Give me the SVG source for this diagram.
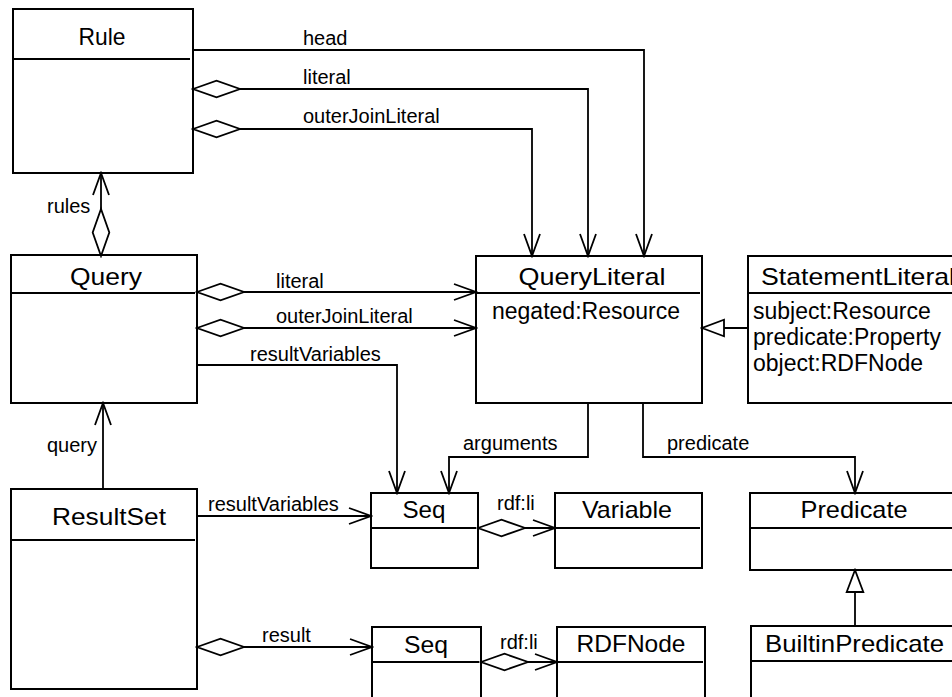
<svg xmlns="http://www.w3.org/2000/svg" width="952" height="697" viewBox="0 0 952 697">
  <style>
    .box { fill: #fff; stroke: #000; stroke-width: 2; }
    .sep { stroke: #000; stroke-width: 2; }
    .conn { fill: none; stroke: #000; stroke-width: 1.8; }
    text { font-family: "Liberation Sans", Arial, sans-serif; fill: #000; }
    .title { font-size: 24px; text-anchor: middle; }
    .title-l { font-size: 24px; }
    .attr { font-size: 23px; }
    .lbl { font-size: 20px; }
  </style>
  <defs>
    <!-- open navigability arrow -->
    <marker id="arrow" viewBox="-24 -10 26 20" refX="0" refY="0" markerWidth="26" markerHeight="20" markerUnits="userSpaceOnUse" orient="auto">
      <path d="M-22,-8 L0,0 L-22,8" fill="none" stroke="#000" stroke-width="1.8"/>
    </marker>
    <!-- hollow aggregation diamond at the owning end -->
    <marker id="diamond" viewBox="-2 -10 52 20" refX="0" refY="0" markerWidth="52" markerHeight="20" markerUnits="userSpaceOnUse" orient="auto">
      <path d="M0,0 L23.5,-8.3 L47,0 L23.5,8.3 Z" fill="#fff" stroke="#000" stroke-width="1.8"/>
    </marker>
    <!-- hollow generalization triangle -->
    <marker id="gen" viewBox="-24 -10 26 20" refX="0" refY="0" markerWidth="26" markerHeight="20" markerUnits="userSpaceOnUse" orient="auto">
      <path d="M0,0 L-22,-8.3 L-22,8.3 Z" fill="#fff" stroke="#000" stroke-width="1.8"/>
    </marker>
  </defs>

  <!-- classes -->
  <g id="Rule">
    <rect class="box" x="13" y="9" width="180" height="164"/>
    <line class="sep" x1="13" y1="59" x2="190" y2="59"/>
    <text class="title" x="102" y="45" textLength="47" lengthAdjust="spacingAndGlyphs">Rule</text>
  </g>
  <g id="Query">
    <rect class="box" x="11" y="255" width="186" height="148"/>
    <line class="sep" x1="11" y1="293" x2="195" y2="293"/>
    <text class="title" x="106" y="285" textLength="72" lengthAdjust="spacingAndGlyphs">Query</text>
  </g>
  <g id="QueryLiteral">
    <rect class="box" x="476" y="256" width="226" height="147"/>
    <line class="sep" x1="476" y1="293" x2="700" y2="293"/>
    <text class="title" x="592" y="285" textLength="147" lengthAdjust="spacingAndGlyphs">QueryLiteral</text>
    <text class="attr" x="492" y="319">negated:Resource</text>
  </g>
  <g id="StatementLiteral">
    <rect class="box" x="748" y="256" width="220" height="147"/>
    <line class="sep" x1="748" y1="293" x2="968" y2="293"/>
    <text class="title-l" x="761" y="285" textLength="194" lengthAdjust="spacingAndGlyphs">StatementLiteral</text>
    <text class="attr" x="753" y="319">subject:Resource</text>
    <text class="attr" x="753" y="345">predicate:Property</text>
    <text class="attr" x="753" y="371">object:RDFNode</text>
  </g>
  <g id="ResultSet">
    <rect class="box" x="11" y="489" width="186" height="200"/>
    <line class="sep" x1="11" y1="540" x2="195" y2="540"/>
    <text class="title" x="109" y="525" textLength="114" lengthAdjust="spacingAndGlyphs">ResultSet</text>
  </g>
  <g id="SeqVariables">
    <rect class="box" x="371" y="493" width="107" height="75"/>
    <line class="sep" x1="371" y1="528" x2="476" y2="528"/>
    <text class="title" x="424" y="518" textLength="43" lengthAdjust="spacingAndGlyphs">Seq</text>
  </g>
  <g id="Variable">
    <rect class="box" x="555" y="493" width="147" height="75"/>
    <line class="sep" x1="555" y1="528" x2="700" y2="528"/>
    <text class="title" x="627" y="518" textLength="90" lengthAdjust="spacingAndGlyphs">Variable</text>
  </g>
  <g id="Predicate">
    <rect class="box" x="750" y="493" width="218" height="77"/>
    <line class="sep" x1="750" y1="528" x2="968" y2="528"/>
    <text class="title" x="854" y="518" textLength="107" lengthAdjust="spacingAndGlyphs">Predicate</text>
  </g>
  <g id="SeqResult">
    <rect class="box" x="372" y="627" width="109" height="90"/>
    <line class="sep" x1="372" y1="662" x2="479" y2="662"/>
    <text class="title" x="426" y="653" textLength="44" lengthAdjust="spacingAndGlyphs">Seq</text>
  </g>
  <g id="RDFNode">
    <rect class="box" x="557" y="627" width="148" height="90"/>
    <line class="sep" x1="557" y1="662" x2="703" y2="662"/>
    <text class="title" x="631" y="652" textLength="109" lengthAdjust="spacingAndGlyphs">RDFNode</text>
  </g>
  <g id="BuiltinPredicate">
    <rect class="box" x="751" y="626" width="217" height="90"/>
    <line class="sep" x1="751" y1="661" x2="968" y2="661"/>
    <text class="title-l" x="765" y="652" textLength="179" lengthAdjust="spacingAndGlyphs">BuiltinPredicate</text>
  </g>

  <!-- associations -->
  <g id="connectors">
    <path class="conn" d="M193,50 H644 V256" marker-end="url(#arrow)"/>
    <path class="conn" d="M193,89 H588 V256" marker-start="url(#diamond)" marker-end="url(#arrow)"/>
    <path class="conn" d="M193,129 H532 V256" marker-start="url(#diamond)" marker-end="url(#arrow)"/>
    <path class="conn" d="M101,256 V173" marker-start="url(#diamond)" marker-end="url(#arrow)"/>
    <path class="conn" d="M197,292 H476" marker-start="url(#diamond)" marker-end="url(#arrow)"/>
    <path class="conn" d="M197,328 H476" marker-start="url(#diamond)" marker-end="url(#arrow)"/>
    <path class="conn" d="M197,365 H397 V493" marker-end="url(#arrow)"/>
    <path class="conn" d="M103,489 V403" marker-end="url(#arrow)"/>
    <path class="conn" d="M748,328 H702" marker-end="url(#gen)"/>
    <path class="conn" d="M588,403 V457 H449 V493" marker-end="url(#arrow)"/>
    <path class="conn" d="M643,403 V457 H855 V493" marker-end="url(#arrow)"/>
    <path class="conn" d="M197,516 H371" marker-end="url(#arrow)"/>
    <path class="conn" d="M197,647 H372" marker-start="url(#diamond)" marker-end="url(#arrow)"/>
    <path class="conn" d="M478,528 H555" marker-start="url(#diamond)" marker-end="url(#arrow)"/>
    <path class="conn" d="M481,662 H557" marker-start="url(#diamond)" marker-end="url(#arrow)"/>
    <path class="conn" d="M855,626 V570" marker-end="url(#gen)"/>

    <text class="lbl" x="303" y="45">head</text>
    <text class="lbl" x="303" y="84">literal</text>
    <text class="lbl" x="303" y="123">outerJoinLiteral</text>
    <text class="lbl" x="47" y="213">rules</text>
    <text class="lbl" x="276" y="288">literal</text>
    <text class="lbl" x="276" y="323">outerJoinLiteral</text>
    <text class="lbl" x="250" y="361">resultVariables</text>
    <text class="lbl" x="47" y="452">query</text>
    <text class="lbl" x="463" y="450">arguments</text>
    <text class="lbl" x="667" y="450">predicate</text>
    <text class="lbl" x="208" y="511">resultVariables</text>
    <text class="lbl" x="497" y="510">rdf:li</text>
    <text class="lbl" x="262" y="642">result</text>
    <text class="lbl" x="500" y="649">rdf:li</text>
  </g>
</svg>
